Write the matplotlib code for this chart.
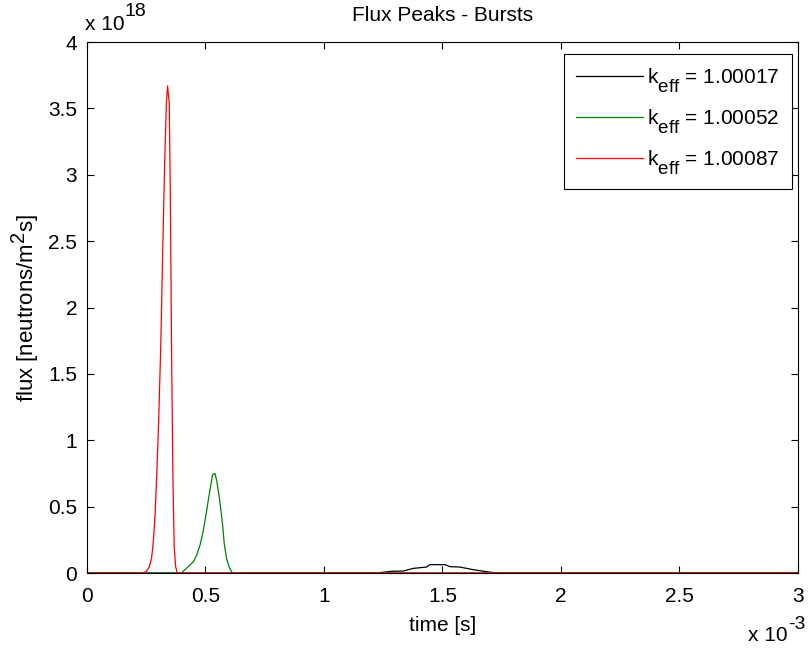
import matplotlib
matplotlib.use("Agg")
import matplotlib.pyplot as plt
import matplotlib._mathtext as _mt
from matplotlib.ticker import FuncFormatter

# MATLAB-style TeX: sub/superscripts nearly full size, subscripts dropped lower
_mt.SHRINK_FACTOR = 0.9
try:
    _mt.FontConstantsBase.sub1 = 0.85
    _mt.FontConstantsBase.sub2 = 0.85
except Exception:
    pass

plt.rcParams['font.family'] = ['Liberation Sans', 'DejaVu Sans']
plt.rcParams['mathtext.fontset'] = 'custom'
plt.rcParams['mathtext.rm'] = 'Liberation Sans'
plt.rcParams['mathtext.it'] = 'Liberation Sans'
plt.rcParams['mathtext.bf'] = 'Liberation Sans:bold'

# time in units of 1e-3 s, flux in units of 1e18 neutrons/m^2 s
black_t = [0, 1.222, 1.285, 1.335, 1.377, 1.433, 1.447, 1.511, 1.532, 1.574, 1.630, 1.679, 1.729, 3.0]
black_v = [0, 0, 0.013, 0.015, 0.035, 0.045, 0.063, 0.063, 0.048, 0.045, 0.025, 0.012, 0, 0]

green_t = [0, 0.400, 0.404, 0.428, 0.449, 0.463, 0.477, 0.491, 0.505, 0.519, 0.530, 0.540,
           0.547, 0.558, 0.565, 0.573, 0.579, 0.589, 0.600, 0.610, 0.615, 3.0]
green_v = [0, 0, 0.01, 0.05, 0.085, 0.135, 0.21, 0.32, 0.47, 0.625, 0.74, 0.75,
           0.70, 0.575, 0.475, 0.35, 0.225, 0.11, 0.045, 0.01, 0, 0]

red_t = [0, 0.230, 0.250, 0.263, 0.273, 0.280, 0.287, 0.294, 0.302, 0.311, 0.319, 0.328,
         0.335, 0.340, 0.347, 0.352, 0.357, 0.363, 0.368, 0.374, 0.381, 3.0]
red_v = [0, 0, 0.01, 0.046, 0.12, 0.24, 0.43, 0.72, 1.12, 1.69, 2.38, 3.11,
         3.54, 3.67, 3.54, 2.80, 1.66, 0.66, 0.20, 0.05, 0, 0]

labels = [r'k$_{\mathrm{eff}}$ = 1.00017', r'k$_{\mathrm{eff}}$ = 1.00052', r'k$_{\mathrm{eff}}$ = 1.00087']
colors = ['black', (0, 0.5, 0), (1, 0, 0)]

xticks = [0, 0.5, 1, 1.5, 2, 2.5, 3]
yticks = [0, 0.5, 1, 1.5, 2, 2.5, 3, 3.5, 4]

fig = plt.figure(figsize=(8.1, 6.48), dpi=100)
ax = fig.add_axes([0.1074, 0.1157, 0.8776, 0.8193])

for t, v, c, lab in zip([black_t, green_t, red_t], [black_v, green_v, red_v], colors, labels):
    ax.plot(t, v, color=c, lw=0.9, label=lab)

ax.set_xlim(0, 3)
ax.set_ylim(0, 4)
ax.set_xticks(xticks)
ax.set_yticks(yticks)
fmt = FuncFormatter(lambda x, p: '%g' % x)
ax.xaxis.set_major_formatter(fmt)
ax.yaxis.set_major_formatter(fmt)
ax.tick_params(direction='in', length=5, width=0.8, top=True, right=True, labelsize=15)
ax.tick_params(axis='x', pad=10)
ax.tick_params(axis='y', pad=7)
for s in ax.spines.values():
    s.set_linewidth(0.8)

ax.set_title('Flux Peaks - Bursts', fontsize=15, pad=15)
ax.set_xlabel('time [s]', fontsize=15, labelpad=7)
ax.set_ylabel(r'flux [neutrons/m$^{\mathrm{2}}$s]', fontsize=16, labelpad=5)

# MATLAB-style exponent labels
ax.text(-0.003, 1.033, 'x 10', transform=ax.transAxes, fontsize=15, ha='left', va='center')
ax.text(0.0534, 1.057, '18', transform=ax.transAxes, fontsize=14, ha='left', va='center')
ax.text(0.986, -0.117, 'x 10', transform=ax.transAxes, fontsize=15, ha='right', va='center')
ax.text(0.9865, -0.097, '-3', transform=ax.transAxes, fontsize=14, ha='left', va='center')

leg = ax.legend(loc='upper right', bbox_to_anchor=(0.9916, 0.9774), fontsize=15,
                handlelength=3.2, handletextpad=0.2, fancybox=False, edgecolor='black',
                framealpha=1, borderaxespad=0.0, labelspacing=0.6, borderpad=0.6)
leg.get_frame().set_linewidth(0.8)

fig.savefig('out.png', dpi=100)
